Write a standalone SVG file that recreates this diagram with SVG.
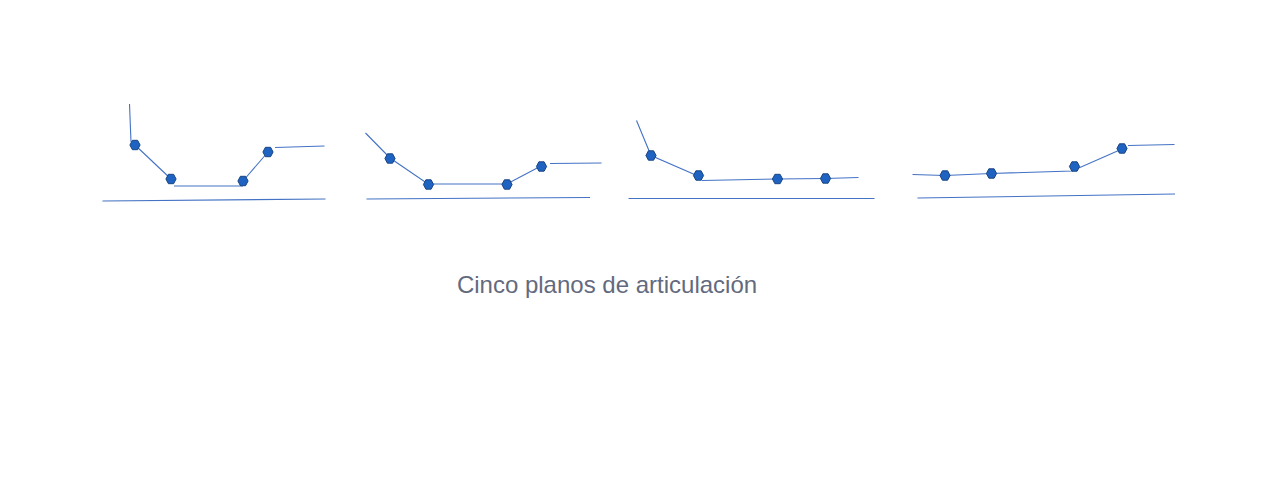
<svg xmlns="http://www.w3.org/2000/svg" xmlns:xlink="http://www.w3.org/1999/xlink" width="1273" height="491" viewBox="0 0 1273 491">
<style>
.ln{fill:none;stroke:#4472c4;stroke-width:1.1}
.dot{fill:#1f63c2;stroke:#1a4580;stroke-width:1}
.t{font-family:"Liberation Sans",Arial,sans-serif;font-size:24px;fill:#636a7e}
</style>
<defs>
<polygon id="hx" class="dot" points="-5.1,0 -2.6,-4.7 2.6,-4.7 5.1,0 2.6,4.7 -2.6,4.7"/>
</defs>
<rect width="1273" height="491" fill="#ffffff"/>
<g id="connectors">
<polyline class="ln" points="129.5,104 131,142"/>
<polyline class="ln" points="135,145 171,179"/>
<polyline class="ln" points="174,186 243,186"/>
<polyline class="ln" points="243,181 268,152"/>
<polyline class="ln" points="275,147.5 324.5,146"/>
<polyline class="ln" points="102.5,201 325.5,199"/>

<polyline class="ln" points="365.5,133 390,158 428,184 507,184 541,166"/>
<polyline class="ln" points="550,163.5 601.5,163"/>
<polyline class="ln" points="366.5,199 590,197.5"/>

<polyline class="ln" points="636.5,120.5 651,155.5 698,176"/>
<polyline class="ln" points="701.5,180.5 777,179 825,178.5 858.5,177.5"/>
<polyline class="ln" points="628.5,198.5 874.5,198.5"/>

<polyline class="ln" points="912.5,174.5 945,175.5 991,173.5 1072,171 1122,149"/>
<polyline class="ln" points="1128,145.5 1174.5,144.5"/>
<polyline class="ln" points="917.5,198 1175,194"/>
</g>
<g id="panel1">
<use xlink:href="#hx" x="135" y="145"/>
<use xlink:href="#hx" x="171" y="179"/>
<use xlink:href="#hx" x="243" y="181"/>
<use xlink:href="#hx" x="268" y="152"/>
</g>
<g id="panel2">
<use xlink:href="#hx" x="390" y="158.5"/>
<use xlink:href="#hx" x="428.5" y="184.5"/>
<use xlink:href="#hx" x="507" y="184.5"/>
<use xlink:href="#hx" x="541.5" y="166.5"/>
</g>
<g id="panel3">
<use xlink:href="#hx" x="651" y="155.5"/>
<use xlink:href="#hx" x="698.5" y="175.5"/>
<use xlink:href="#hx" x="777.5" y="179"/>
<use xlink:href="#hx" x="825.5" y="178.5"/>
</g>
<g id="panel4">
<use xlink:href="#hx" x="945" y="175.5"/>
<use xlink:href="#hx" x="991.5" y="173.5"/>
<use xlink:href="#hx" x="1074.5" y="166.5"/>
<use xlink:href="#hx" x="1122" y="148.5"/>
</g>
<g id="caption">
<text class="t" x="607" y="292.5" text-anchor="middle">Cinco planos de articulación</text>
</g>
</svg>
